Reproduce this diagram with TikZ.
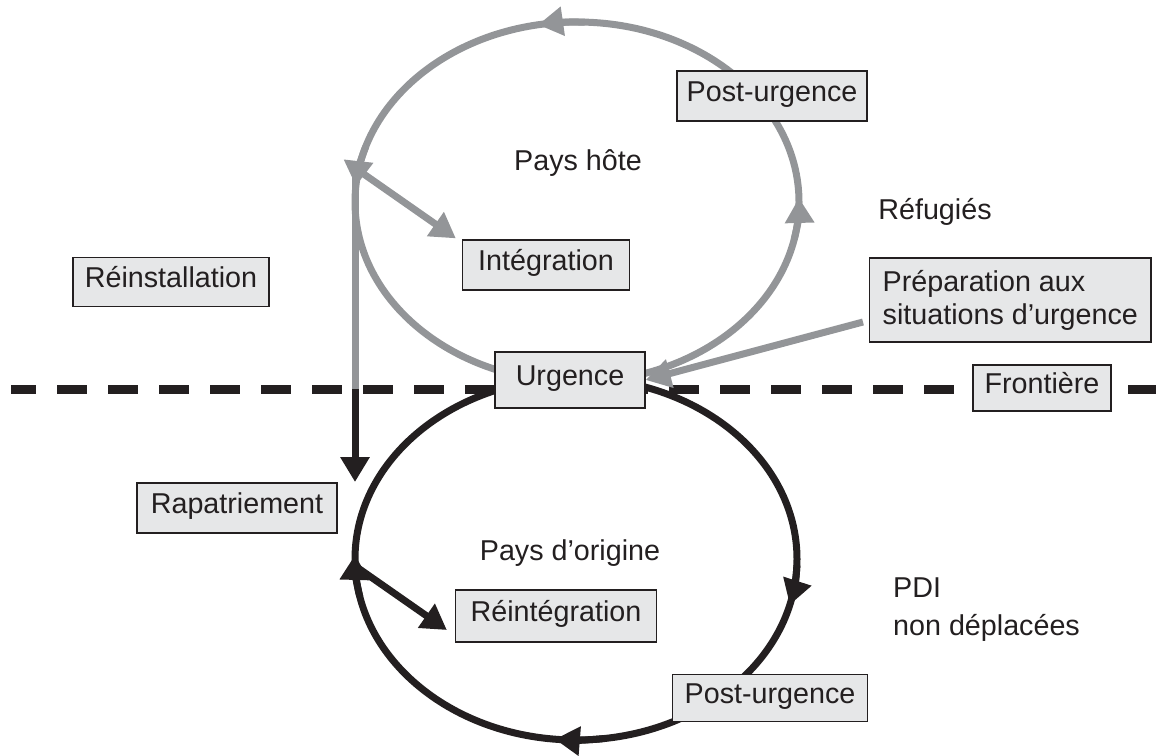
\documentclass[tikz,border=0pt]{standalone}
\usepackage{fontspec}
\setmainfont{Liberation Sans}
\usetikzlibrary{arrows.meta,calc}
\definecolor{cgray}{HTML}{939598}
\definecolor{cblack}{HTML}{231F20}
\definecolor{cfill}{HTML}{E6E7E8}
\newcommand\dfont{\fontsize{28.7}{34}\selectfont}
\begin{document}
\begin{tikzpicture}[x=1pt,y=1pt,
  box/.style={draw=cblack, line width=1.3pt, fill=cfill, inner sep=0pt, minimum height=50pt, text height=19pt, text depth=7.5pt, font=\dfont, text=cblack},
  lbl/.style={font=\dfont, text=cblack, inner sep=0pt},
  gline/.style={draw=cgray, line width=7pt},
  bline/.style={draw=cblack, line width=7pt},
  tip/.style={-{Triangle[length=25pt,width=28pt]}},
]
\useasboundingbox (0,0) rectangle (1156,-755);
% border
\coordinate (bL) at (11,-389);
\coordinate (bR) at (1156,-389);
\draw[cblack, line width=9pt, dash pattern=on 30pt off 21pt, dash phase=5pt] (bL) -- (bR);

\coordinate (cg) at (577,-202);
\coordinate (cb) at (576,-559);

% gray cycle (host country)
\draw[gline] (cg) ellipse [x radius=222, y radius=180];
\draw[gline, tip] ([shift={(-12:222 and 180)}]cg) arc[start angle=-12, end angle=1.3, x radius=222, y radius=180];
\draw[gline, tip] ([shift={(88:222 and 180)}]cg) arc[start angle=88, end angle=100.1, x radius=222, y radius=180] ;
\draw[gline, tip] ([shift={(162:222 and 180)}]cg) arc[start angle=162, end angle=174.9, x radius=222, y radius=180];

% black cycle (origin country)
\draw[bline] (cb) ellipse [x radius=221, y radius=181];
\draw[bline, tip] ([shift={(-2:221 and 181)}]cb) arc[start angle=-2, end angle=-14.7, x radius=221, y radius=181];
\draw[bline, tip] ([shift={(-83:221 and 181)}]cb) arc[start angle=-83, end angle=-95.5, x radius=221, y radius=181];
\draw[bline, tip] ([shift={(-168:221 and 181)}]cb) arc[start angle=-168, end angle=-181.3, x radius=221, y radius=181];

% boxes
\node[box, minimum width=190] (pu1) at (772,-96) {Post-urgence};
\node[box, minimum width=167] (intg) at (546,-265) {Intégration};
\node[box, minimum width=196, minimum height=49] (reinst) at (171,-282) {Réinstallation};
\node[box, minimum width=279, minimum height=84, align=left, text height=, text depth=, inner xsep=13pt, anchor=west, font=\fontsize{28.7}{33}\selectfont] (prep) at (869,-300) {Préparation aux\\situations d’urgence};
\node[box, minimum width=138, minimum height=46] (front) at (1042,-388) {Frontière};
\node[box, minimum width=150, minimum height=56] (urg) at (570,-380) {Urgence};
\node[box, minimum width=200] (rapat) at (237,-508) {Rapatriement};
\node[box, minimum width=201, minimum height=52] (reintg) at (556,-616) {Réintégration};
\node[box, minimum width=195, minimum height=47] (pu2) at (770,-698) {Post-urgence};

% labels
\node[lbl] (host) at (578,-163) {Pays hôte};
\node[lbl] (refug) at (935,-212) {Réfugiés};
\node[lbl] (orig) at (570,-553) {Pays d’origine};
\node[lbl, align=left, anchor=north west, font=\fontsize{28.7}{38}\selectfont] (pdi) at (893,-578) {PDI\\non déplacées};

% connectors
\coordinate (vTop) at (355,-172);
\coordinate (vMid) at (355,-389);
\coordinate (vEnd) at (355,-482);
\draw[gline] (vTop) -- (vMid);
\draw[bline, tip] (vMid) -- (vEnd);

\coordinate (gA) at (358,-170);
\coordinate (gB) at ($(intg.north west)+(-6,1)$);
\draw[gline, tip] (gA) -- (gB);

\coordinate (bA) at (358,-568);
\coordinate (bB) at ($(reintg.west)+(-8,-14)$);
\draw[bline, tip] (bA) -- (bB);

\coordinate (pA) at ($(prep.west)+(-6,-22)$);
\draw[gline, tip] (pA) -- (urg.east);
\end{tikzpicture}
\end{document}
